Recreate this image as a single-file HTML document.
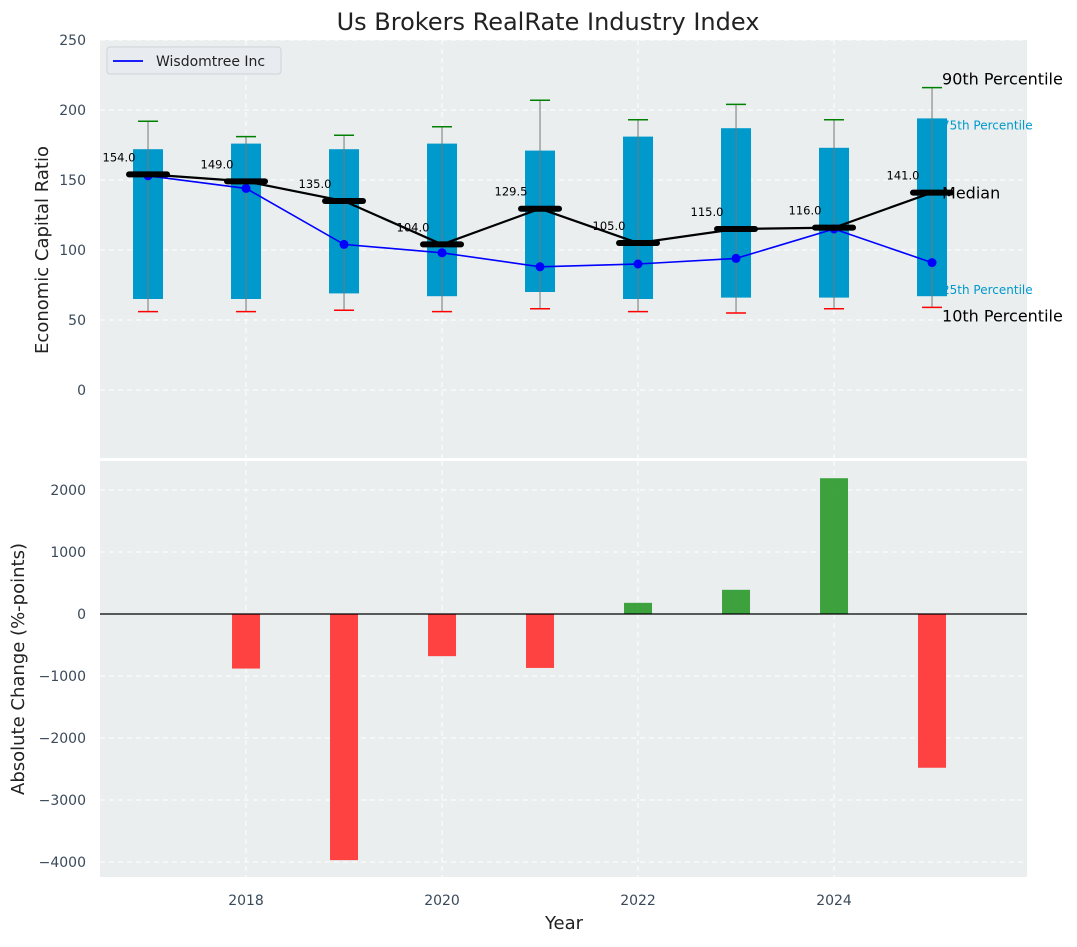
<!DOCTYPE html>
<html><head><meta charset="utf-8"><style>
body{margin:0;background:#fff;}
text{font-family:"DejaVu Sans","Liberation Sans",sans-serif;}
</style></head><body>
<svg id="chart" width="1077" height="942" xmlns="http://www.w3.org/2000/svg">
<text x="548" y="30" font-size="24" text-anchor="middle" fill="#222">Us Brokers RealRate Industry Index</text>
<rect x="100" y="40" width="927" height="418" fill="#eaeeef"/>
<rect x="100" y="461" width="927" height="416" fill="#eaeeef"/>
<g id="top"></g><g id="bot"></g>
<text x="48" y="250" font-size="18" fill="#222" text-anchor="middle" transform="rotate(-90 48 250)">Economic Capital Ratio</text>
<text x="24" y="669" font-size="18" fill="#222" text-anchor="middle" transform="rotate(-90 24 669)">Absolute Change (%-points)</text>
<text x="564" y="929" font-size="18" fill="#222" text-anchor="middle">Year</text>
<g>
<rect x="107" y="47" width="174" height="27" rx="3" fill="#e8ebef" stroke="#cfd3d8"/>
<line x1="113" y1="61" x2="143" y2="61" stroke="blue" stroke-width="1.8"/>
<text x="156" y="66" font-size="14" fill="#222">Wisdomtree Inc</text>
</g>
</svg>
<script>
const years=[2017,2018,2019,2020,2021,2022,2023,2024,2025];
const p10=[56,56,57,56,58,56,55,58,59];
const q1=[65,65,69,67,70,65,66,66,67];
const med=[154,149,135,104,129.5,105,115,116,141];
const q3=[172,176,172,176,171,181,187,173,194];
const p90=[192,181,182,188,207,193,204,193,216];
const firm=[153,144,104,98,88,90,94,115,91];
const changeYears=[2018,2019,2020,2021,2022,2023,2024,2025];
const changes=[-880,-3970,-680,-870,180,390,2190,-2480];
const topTicks=[0,50,100,150,200,250];
const botTicks=[-4000,-3000,-2000,-1000,0,1000,2000];
const xTicks=[2018,2020,2022,2024];
const NS="http://www.w3.org/2000/svg";
const X=v=>100+(v-2016.51)*98;
const YT=v=>390-v*1.4;
const YB=v=>614-v*0.062;
function mk(p,tag,a,txt){const e=document.createElementNS(NS,tag);for(const k in a)e.setAttribute(k,a[k]);if(txt!==undefined)e.textContent=txt;p.appendChild(e);return e;}
const T=document.getElementById('top'),B=document.getElementById('bot');
// grids
xTicks.forEach(t=>{
 let g=mk(T,'line',{x1:X(t),x2:X(t),y1:40,y2:458,stroke:'#fff','stroke-dasharray':'5,4','stroke-width':1});
 
 let g2=mk(B,'line',{x1:X(t),x2:X(t),y1:461,y2:877,stroke:'#fff','stroke-dasharray':'5,4','stroke-width':1});
 
 let l=mk(B,'text',{x:X(t),y:905,'font-size':14,fill:'#3a4a5a','text-anchor':'middle'},String(t));
 
});
topTicks.forEach(t=>{
 let g=mk(T,'line',{x1:100,x2:1027,y1:YT(t),y2:YT(t),stroke:'#fff','stroke-dasharray':'5,4','stroke-width':1});
 
 let l=mk(T,'text',{x:86,y:YT(t)+5,'font-size':14,fill:'#3a4a5a','text-anchor':'end'},String(t));
 
});
botTicks.forEach(t=>{
 let g=mk(B,'line',{x1:100,x2:1027,y1:YB(t),y2:YB(t),stroke:'#fff','stroke-dasharray':'5,4','stroke-width':1});
 
 let l=mk(B,'text',{x:86,y:YB(t)+5,'font-size':14,fill:'#3a4a5a','text-anchor':'end'},(t<0?'\u2212'+(-t):String(t)));
 
});
// boxes
years.forEach((y,i)=>{
 const cx=X(y);
 let b=mk(T,'rect',{x:cx-15,y:YT(q3[i]),width:30,height:YT(q1[i])-YT(q3[i]),fill:'#0099cc'});
 
 let w=mk(T,'line',{x1:cx,x2:cx,y1:YT(p90[i]),y2:YT(p10[i]),stroke:'#777','stroke-width':1});
 
 let h=mk(T,'line',{x1:cx-10,x2:cx+10,y1:YT(p90[i]),y2:YT(p90[i]),stroke:'green','stroke-width':1.5});
 
 let lo=mk(T,'line',{x1:cx-10,x2:cx+10,y1:YT(p10[i]),y2:YT(p10[i]),stroke:'red','stroke-width':1.5});
 
});
// firm line
let fp=mk(T,'polyline',{points:years.map((y,i)=>X(y)+','+YT(firm[i])).join(' '),fill:'none',stroke:'blue','stroke-width':1.6});

years.forEach((y,i)=>{let c=mk(T,'circle',{cx:X(y),cy:YT(firm[i]),r:4.5,fill:'blue'});
 });
// median line
let mp=mk(T,'polyline',{points:years.map((y,i)=>X(y)+','+YT(med[i])).join(' '),fill:'none',stroke:'#000','stroke-width':2.2});

years.forEach((y,i)=>{
 let m=mk(T,'line',{x1:X(y)-19,x2:X(y)+19,y1:YT(med[i]),y2:YT(med[i]),stroke:'#000','stroke-width':6,'stroke-linecap':'round'});
 
 let t=mk(T,'text',{x:X(y)-29,y:YT(med[i])-13,'font-size':11.5,fill:'#000','text-anchor':'middle'},med[i].toFixed(1));
 
});
// percentile annotations
const L=years.length-1, lx=X(years[L])+10;
[[ '90th Percentile',YT(p90[L])-3,16,'#000'],['75th Percentile',YT(q3[L])+11,12,'#0099cc'],['Median',YT(med[L])+6,16,'#000'],['25th Percentile',YT(q1[L])-2,12,'#0099cc'],['10th Percentile',YT(p10[L])+14,16,'#000']].forEach(a=>{
 let t=mk(T,'text',{x:lx,y:a[1],'font-size':a[2],fill:a[3]},a[0]);
 
});
// bottom bars
changeYears.forEach((y,i)=>{
 const v=changes[i];
 let r=mk(B,'rect',{x:X(y)-14,y:Math.min(YB(v),YB(0)),width:28,height:Math.abs(YB(v)-YB(0)),fill:v>=0?'#2e9a2e':'#ff3333','fill-opacity':0.92});
 
});
let z=mk(B,'line',{x1:100,x2:1027,y1:YB(0),y2:YB(0),stroke:'#000','stroke-width':1.2});

</script>
</body></html>
